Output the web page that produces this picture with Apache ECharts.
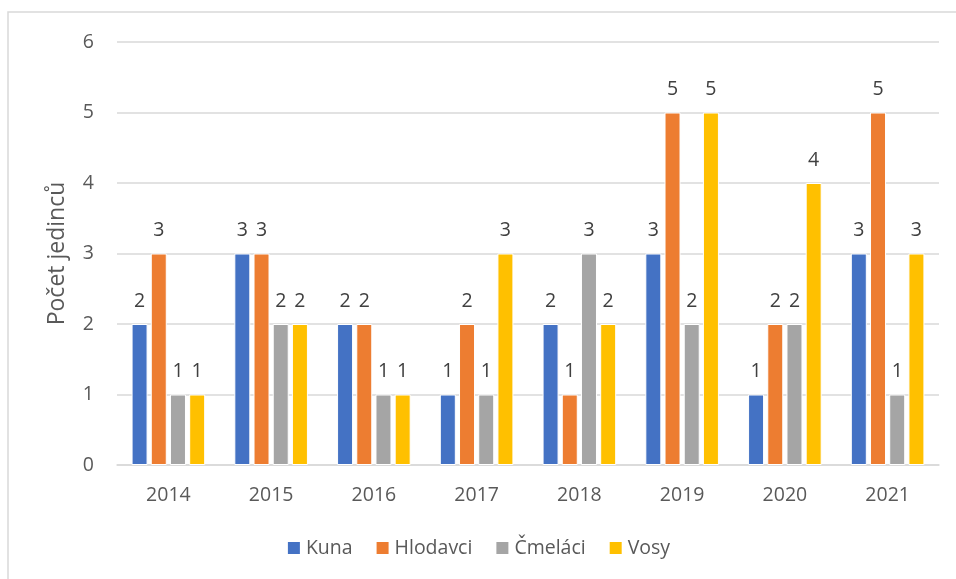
<!DOCTYPE html>
<html>
<head>
<meta charset="utf-8">
<script src="https://cdn.jsdelivr.net/npm/echarts@6/dist/echarts.min.js"></script>
<style>
  html, body { margin: 0; padding: 0; background: #fff; }
  #chart { width: 956px; height: 579px; }
</style>
</head>
<body>
<div id="chart"></div>
<script>
const years = ['2014', '2015', '2016', '2017', '2018', '2019', '2020', '2021']
const kuna = [2, 3, 2, 1, 2, 3, 1, 3]
const hlodavci = [3, 3, 2, 2, 1, 5, 2, 5]
const cmelaci = [1, 2, 1, 1, 3, 2, 2, 1]
const vosy = [1, 2, 1, 3, 2, 5, 4, 3]

const font = '"Open Sans", "Noto Sans", sans-serif'
const textColor = '#595959'

function bar(name, data, color) {
  return {
    name,
    type: 'bar',
    data,
    barWidth: 16,
    barGap: '20%',
    itemStyle: { color, borderColor: '#fff', borderWidth: 1 },
    label: {
      show: true,
      position: 'top',
      distance: 13,
      color: '#404040',
      fontSize: 19.5,
      fontFamily: font
    }
  }
}

const chart = echarts.init(document.getElementById('chart'))
chart.setOption({
  animation: false,
  textStyle: { fontFamily: font },
  graphic: [{
    type: 'rect',
    shape: { x: 8, y: 12, width: 960, height: 580 },
    style: { fill: 'none', stroke: '#D9D9D9', lineWidth: 1.5 },
    silent: true
  }],
  grid: { left: 117, right: 17, top: 42, bottom: 114 },
  legend: {
    bottom: 16,
    left: 'center',
    itemWidth: 14,
    itemHeight: 14,
    itemGap: 22,
    icon: 'rect',
    textStyle: { fontSize: 19.5, color: textColor, fontFamily: font }
  },
  xAxis: {
    type: 'category',
    data: years,
    axisLine: { lineStyle: { color: '#D9D9D9', width: 1.5 } },
    axisTick: { show: false },
    axisLabel: { fontSize: 19.5, color: textColor, margin: 20 }
  },
  yAxis: {
    type: 'value',
    min: 0,
    max: 6,
    interval: 1,
    name: 'Počet jedinců',
    nameLocation: 'middle',
    nameGap: 48,
    nameTextStyle: { fontSize: 23, color: textColor },
    axisLine: { show: false },
    axisTick: { show: false },
    axisLabel: { fontSize: 19.5, color: textColor, margin: 23 },
    splitLine: { lineStyle: { color: '#D9D9D9', width: 1.5 } }
  },
  series: [
    bar('Kuna', kuna, '#4472C4'),
    bar('Hlodavci', hlodavci, '#ED7D31'),
    bar('Čmeláci', cmelaci, '#A5A5A5'),
    bar('Vosy', vosy, '#FFC000')
  ]
})
</script>
</body>
</html>
